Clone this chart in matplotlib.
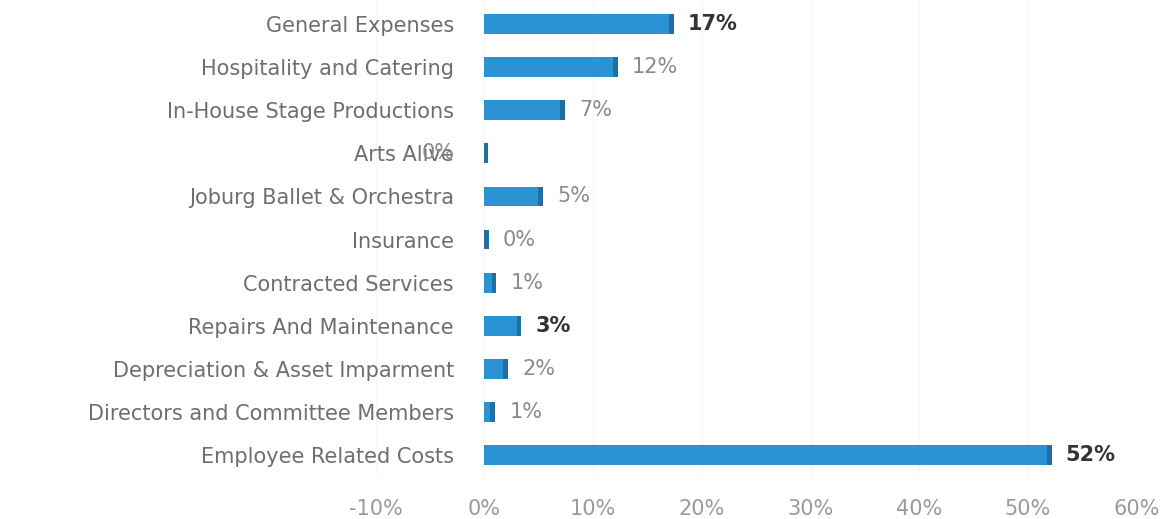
import matplotlib
matplotlib.use('Agg')
import matplotlib.pyplot as plt
import matplotlib.transforms as mtransforms

# expense categories, top to bottom
categories = ['General Expenses', 'Hospitality and Catering', 'In-House Stage Productions',
              'Arts Alive', 'Joburg Ballet & Orchestra', 'Insurance', 'Contracted Services',
              'Repairs And Maintenance', 'Depreciation & Asset Imparment',
              'Directors and Committee Members', 'Employee Related Costs']
shares = [17.4, 12.3, 7.4, 0.3, 5.4, 0.4, 1.1, 3.4, 2.2, 1.0, 52.2]
bold_labels = ['General Expenses', 'Repairs And Maintenance', 'Employee Related Costs']
xticks = [-10, 0, 10, 20, 30, 40, 50, 60]

fig = plt.figure(figsize=(11.67, 5.19), dpi=100)
ax = fig.add_axes([0.322, 0.082, 0.652, 0.913])
# category labels sit next to the zero line, not the left edge
ax.spines['left'].set_position(('data', 0))

ypos = list(range(len(categories)))[::-1]
blue = '#2b92d4'
side = '#226ea3'

ax.barh(ypos, shares, height=0.46, color=blue, edgecolor='none', zorder=3)
# darker end cap gives the bars a bit of depth
cap = [min(0.45, s) for s in shares]
ax.barh(ypos, cap, left=[s - c for s, c in zip(shares, cap)], height=0.46,
        color=side, edgecolor='none', zorder=4)

off = mtransforms.offset_copy(ax.transData, fig=fig, x=10, y=0, units='points')
for cat, y, s in zip(categories, ypos, shares):
    bold = cat in bold_labels
    xs = s
    tr = off
    if cat == 'Arts Alive':
        xs = -5.8
        tr = ax.transData
    ax.text(xs, y, f'{s:.0f}%', transform=tr, va='center', ha='left',
            fontsize=15, color='#333333' if bold else '#8a8a8a',
            fontweight='bold' if bold else 'normal', zorder=5)

ax.set_xlim(-10, 60)
ax.set_ylim(-0.5, len(categories) - 0.5)
ax.set_xticks(xticks)
ax.set_xticklabels([f'{t}%' for t in xticks], fontsize=15)
ax.set_yticks(ypos)
ax.set_yticklabels(categories, fontsize=15)
for sp in ax.spines.values():
    sp.set_visible(False)
ax.tick_params(axis='y', length=0, pad=22, labelcolor='#6e6e6e')
ax.tick_params(axis='x', length=0, pad=16, labelcolor='#9a9a9a')
ax.grid(axis='x', color='#f7f7f7', linewidth=1, zorder=0)

fig.savefig('out.png', dpi=100, facecolor='white')
